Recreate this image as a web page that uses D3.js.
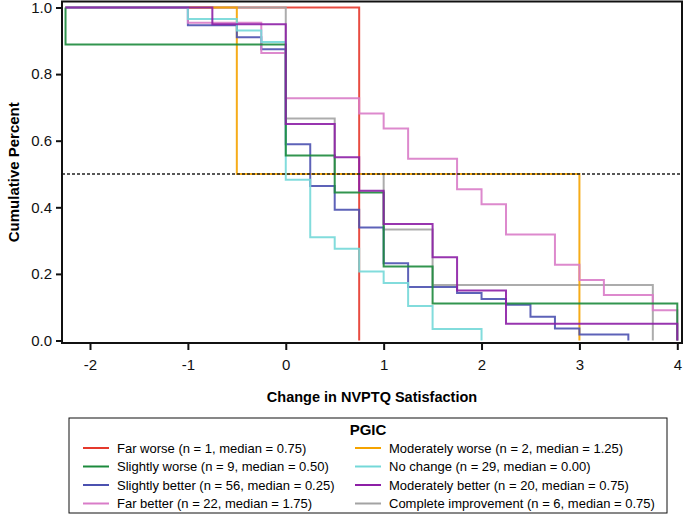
<!DOCTYPE html>
<html>
<head>
<meta charset="utf-8">
<script src="https://cdn.jsdelivr.net/npm/d3@7"></script>
<style>
  body { margin: 0; background: #fff; }
  text { font-family: "Liberation Sans", Arial, sans-serif; }
</style>
</head>
<body>
<div id="chart"></div>
<script>
// PGIC groups (legend order is row by row, two columns)
const groups = ["Far worse", "Moderately worse", "Slightly worse", "No change",
  "Slightly better", "Moderately better", "Far better", "Complete improvement"];
const groupN = [1, 2, 9, 29, 56, 20, 22, 6];
const groupMedian = ["0.75", "1.25", "0.50", "0.00", "0.25", "0.75", "1.75", "0.75"];
const groupColors = ["#e5392c", "#f5a300", "#1c8a3c", "#74d8d8",
  "#4b51b0", "#8d1fa6", "#d97cc8", "#a3a3a3"];

// observed change values and how many patients had each one
const farWorseVals = [0.75];
const farWorseCnt = [1];
const modWorseVals = [-0.5, 3];
const modWorseCnt = [1, 1];
const slWorseVals = [-2.25, 0, 0.5, 1, 1.5, 4];
const slWorseCnt = [1, 3, 1, 2, 1, 1];
const noChangeVals = [-1, -0.5, -0.25, 0, 0.25, 0.5, 0.75, 1, 1.25, 1.5, 2];
const noChangeCnt = [1, 1, 1, 12, 5, 1, 2, 1, 2, 2, 1];
const slBetterVals = [-1, -0.5, -0.25, 0, 0.25, 0.5, 0.75, 1, 1.25, 1.75, 2, 2.25, 2.5, 2.75, 3, 3.5];
const slBetterCnt = [3, 2, 2, 16, 7, 4, 3, 6, 4, 1, 1, 1, 2, 2, 1, 1];
const modBetterVals = [-0.75, 0, 0.5, 0.75, 1, 1.5, 1.75, 2.25, 4];
const modBetterCnt = [1, 6, 2, 2, 2, 2, 2, 2, 1];
const farBetterVals = [-1, -0.25, 0, 0.75, 1, 1.25, 1.75, 2, 2.25, 2.75, 3, 3.25, 3.75, 4];
const farBetterCnt = [1, 2, 3, 1, 1, 2, 2, 1, 2, 2, 1, 1, 1, 2];
const completeVals = [0, 0.5, 1, 1.5, 3.75];
const completeCnt = [2, 1, 1, 1, 1];

const xTicks = [-2, -1, 0, 1, 2, 3, 4];
const yTicks = [0, 0.2, 0.4, 0.6, 0.8, 1.0];

const groupVals = [farWorseVals, modWorseVals, slWorseVals, noChangeVals,
  slBetterVals, modBetterVals, farBetterVals, completeVals];
const groupCnt = [farWorseCnt, modWorseCnt, slWorseCnt, noChangeCnt,
  slBetterCnt, modBetterCnt, farBetterCnt, completeCnt];

const width = 685, height = 515;
const svg = d3.select("#chart").append("svg")
  .attr("width", width).attr("height", height);

const x = d3.scaleLinear().domain([-2, 4]).range([90, 677.3]);
const y = d3.scaleLinear().domain([0, 1]).range([340.5, 7.5]);
const box = { left: 62, right: 682, top: 1.5, bottom: 343 };

// step curve: share of the group with change above x
function stepPoints(vals, cnt) {
  const n = d3.sum(cnt);
  let left = n;
  const pts = [[-2.25, 1]];
  vals.forEach(function (v, i) {
    left -= cnt[i];
    pts.push([v, left / n]);
  });
  return pts;
}
const line = d3.line()
  .x(function (d) { return x(d[0]); })
  .y(function (d) { return y(d[1]); })
  .curve(d3.curveStepAfter);

// drawing order so the top line at 1.0 matches the original
const drawOrder = [0, 7, 1, 4, 6, 3, 2, 5];
svg.append("g").selectAll("path")
  .data(drawOrder)
  .join("path")
  .attr("d", function (i) { return line(stepPoints(groupVals[i], groupCnt[i])); })
  .attr("fill", "none")
  .attr("stroke", function (i) { return groupColors[i]; })
  .attr("stroke-width", 2)
  .attr("stroke-opacity", 0.9);

// median reference line
svg.append("line")
  .attr("x1", box.left).attr("x2", box.right)
  .attr("y1", y(0.5)).attr("y2", y(0.5))
  .attr("stroke", "#222").attr("stroke-width", 1.5)
  .attr("stroke-dasharray", "3,2");

// frame
svg.append("rect")
  .attr("x", box.left).attr("y", box.top)
  .attr("width", box.right - box.left).attr("height", box.bottom - box.top)
  .attr("fill", "none").attr("stroke", "#111").attr("stroke-width", 2);

// axes (plain hyphen for negatives, like the original)
const yAxis = svg.append("g")
  .attr("transform", `translate(${box.left},0)`)
  .call(d3.axisLeft(y).tickValues(yTicks).tickFormat(function (d) { return d.toFixed(1); })
    .tickSize(6).tickPadding(4));
const xAxis = svg.append("g")
  .attr("transform", `translate(0,${box.bottom})`)
  .call(d3.axisBottom(x).tickValues(xTicks).tickFormat(function (d) { return String(d); })
    .tickSize(7).tickPadding(9));
[yAxis, xAxis].forEach(function (a) {
  a.select(".domain").remove();
  a.selectAll(".tick line").attr("stroke", "#111").attr("stroke-width", 2);
  a.selectAll(".tick text").attr("fill", "#111")
    .style("font-size", "15px").style("font-family", "Liberation Sans, Arial, sans-serif");
});

svg.append("text")
  .attr("transform", `translate(14,${(box.top + box.bottom) / 2}) rotate(-90)`)
  .attr("text-anchor", "middle").attr("dy", "0.35em")
  .style("font-size", "15px").style("font-weight", "bold")
  .text("Cumulative Percent");

svg.append("text")
  .attr("x", (box.left + box.right) / 2).attr("y", 397)
  .attr("text-anchor", "middle").attr("dy", "0.35em")
  .style("font-size", "14.5px").style("font-weight", "bold")
  .text("Change in NVPTQ Satisfaction");

// legend
const leg = svg.append("g");
leg.append("rect")
  .attr("x", 69).attr("y", 418).attr("width", 598).attr("height", 95)
  .attr("fill", "none").attr("stroke", "#111").attr("stroke-width", 1);
leg.append("text")
  .attr("x", 368).attr("y", 430).attr("text-anchor", "middle").attr("dy", "0.35em")
  .style("font-size", "15px").style("font-weight", "bold")
  .text("PGIC");
const rowY = [448, 466.5, 485, 503.5];
const colX = [83, 355];
groups.forEach(function (g, i) {
  const cx = colX[i % 2], cy = rowY[Math.floor(i / 2)];
  leg.append("line")
    .attr("x1", cx).attr("x2", cx + 26).attr("y1", cy).attr("y2", cy)
    .attr("stroke", groupColors[i]).attr("stroke-width", 2);
  leg.append("text")
    .attr("x", cx + 34).attr("y", cy).attr("dy", "0.35em")
    .style("font-size", "13px")
    .text(`${g} (n = ${groupN[i]}, median = ${groupMedian[i]})`);
});
</script>
</body>
</html>
